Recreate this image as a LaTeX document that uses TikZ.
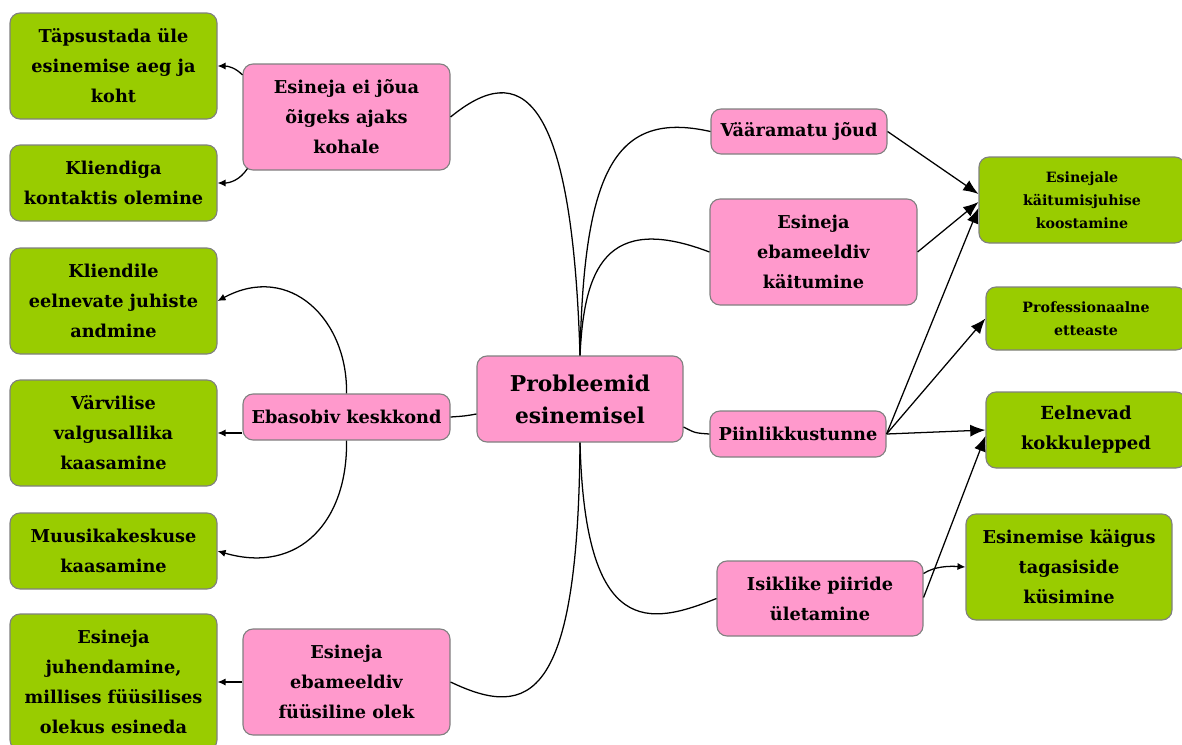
\documentclass[tikz,border=0pt]{standalone}
\usepackage{fontspec}
\setmainfont{DejaVu Serif}
\usetikzlibrary{arrows.meta,calc}
\definecolor{leaf}{HTML}{99CC00}
\definecolor{cause}{HTML}{FF99CC}
\definecolor{rim}{HTML}{808080}
\begin{document}
\begin{tikzpicture}[x=0.025cm,y=-0.025cm,
  box/.style 2 args={draw=rim,line width=0.8pt,rounded corners=0.25cm,
    minimum width=#1*0.025cm,minimum height=#2*0.025cm,inner sep=0pt,
    align=center,font=\bfseries\fontsize{12.6}{21.3}\selectfont},
  leafbox/.style 2 args={box={#1}{#2},fill=leaf},
  causebox/.style 2 args={box={#1}{#2},fill=cause},
  link/.style={line width=0.9pt},
  bigarrow/.style={link,-{Latex[length=0.38cm,width=0.3cm]}},
  smallarrow/.style={link,-{Latex[length=0.2cm,width=0.18cm]}}]
\clip (0,0) rectangle (1182,744);

% central topic
\node[causebox={206}{86},font=\bfseries\fontsize{15.5}{22.8}\selectfont] (C) at (580,399) {Probleemid\\esinemisel};

% causes on the left
\node[causebox={207}{106}] (P1) at (346.5,117) {Esineja ei jõua\\õigeks ajaks\\kohale};
\node[causebox={207}{46}] (P2) at (346.5,417) {Ebasobiv keskkond};
\node[causebox={207}{106}] (P3) at (346.5,682) {Esineja\\ebameeldiv\\füüsiline olek};

% solutions on the left
\node[leafbox={207}{106}] (G1) at (113.5,66) {Täpsustada üle\\esinemise aeg ja\\koht};
\node[leafbox={207}{76}] (G2) at (113.5,183) {Kliendiga\\kontaktis olemine};
\node[leafbox={207}{106}] (G3) at (113.5,301) {Kliendile\\eelnevate juhiste\\andmine};
\node[leafbox={207}{106}] (G4) at (113.5,433) {Värvilise\\valgusallika\\kaasamine};
\node[leafbox={207}{76}] (G5) at (113.5,551) {Muusikakeskuse\\kaasamine};
\node[leafbox={207}{136}] (G6) at (113.5,682) {Esineja\\juhendamine,\\millises füüsilises\\olekus esineda};

% causes on the right
\node[causebox={176}{45}] (R1) at (799,131.5) {Vääramatu jõud};
\node[causebox={207}{106}] (R2) at (813.5,252) {Esineja\\ebameeldiv\\käitumine};
\node[causebox={176}{46}] (R3) at (798,434) {Piinlikkustunne};
\node[causebox={206}{75}] (R4) at (820,598.5) {Isiklike piiride\\ületamine};

% solutions on the right
\node[leafbox={206}{86},font=\bfseries\fontsize{10.1}{16.4}\selectfont] (E1) at (1082,200) {Esinejale\\käitumisjuhise\\koostamine};
\node[leafbox={200}{63},font=\bfseries\fontsize{10.1}{16.4}\selectfont] (E2) at (1086,318.5) {Professionaalne\\etteaste};
\node[leafbox={200}{76},font=\bfseries\fontsize{12.8}{21.3}\selectfont] (E3) at (1086,430) {Eelnevad\\kokkulepped};
\node[leafbox={206}{106}] (E4) at (1069,567) {Esinemise käigus\\tagasiside\\küsimine};

% branches from the central topic
\draw[link] (C.north) .. controls (572,90) and (520,60) .. (P1.east);
\draw[link] (C.north) .. controls (584,170) and (615,110) .. (R1.west);
\draw[link] (C.north) .. controls (584,270) and (605,212) .. (R2.west);
\draw[link] ($(C.west)+(0,15)$) .. controls (465,416) .. (P2.east);
\draw[link] ($(C.east)+(0,28)$) .. controls (695,433) .. (R3.west);
\draw[link] (C.south) .. controls (578,700) and (530,720) .. (P3.east);
\draw[link] (C.south) .. controls (585,640) and (650,625) .. (R4.west);

% left solutions
\draw[smallarrow] ($(P1.west)+(0,-42)$) .. controls (236,68) and (228,66) .. (G1.east);
\draw[smallarrow] ($(P1.south west)+(5,-2)$) .. controls (240,180) and (230,183) .. (G2.east);
\draw[smallarrow] (P2.north) .. controls (348,320) and (290,262) .. (G3.east);
\draw[smallarrow] (P2.west |- G4.east) -- (G4.east);
\draw[smallarrow] (P2.south) .. controls (348,520) and (300,575) .. (G5.east);
\draw[smallarrow] (P3.west) -- (G6.east);

% right solutions
\draw[bigarrow] (R1.east) -- ($(E1.west)+(0,-6)$);
\draw[bigarrow] (R2.east) -- ($(E1.west)+(0,2)$);
\draw[bigarrow] (R3.east) -- ($(E1.west)+(0,8)$);
\draw[bigarrow] (R3.east) -- (E2.west);
\draw[bigarrow] (R3.east) -- (E3.west);
\draw[bigarrow] ($(R4.east)+(0,-1)$) -- ($(E3.west)+(0,6)$);
\draw[smallarrow] ($(R4.east)+(0,-25)$) .. controls (935,566) and (950,566) .. (E4.west);
\end{tikzpicture}
\end{document}
